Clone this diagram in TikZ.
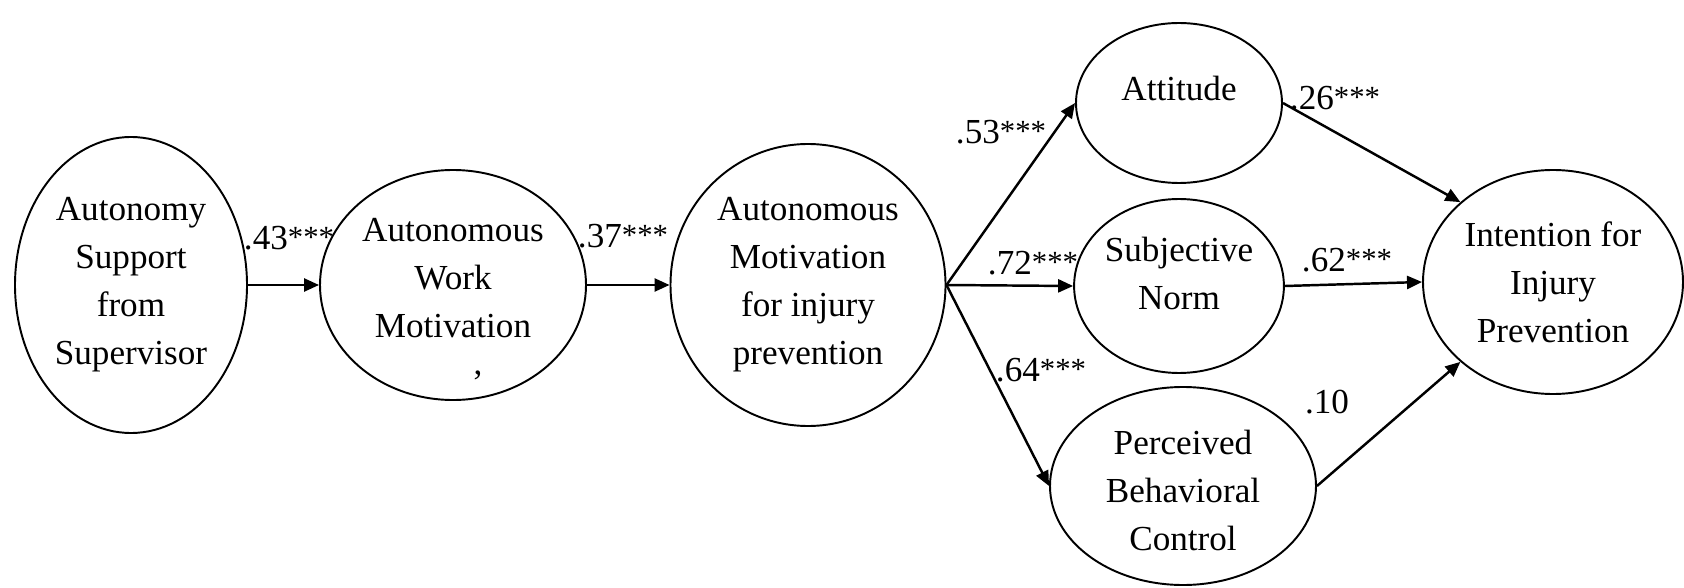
\documentclass[tikz,border=0pt]{standalone}
\usepackage{fontspec}
\setmainfont{Liberation Serif}
\usetikzlibrary{shapes.geometric, arrows.meta, positioning}

\newcommand{\stars}{\raisebox{1pt}{\fontsize{17.5}{17.5}\selectfont***}}

\tikzset{
  latent/.style={draw, ellipse, line width=1.1pt, inner sep=0pt, align=center,
    font=\fontsize{20}{27.3}\selectfont},
  path/.style={-{Triangle[length=0.3cm, width=0.26cm]}, line width=1.4pt},
  coef/.style={inner sep=0pt, font=\fontsize{20}{24}\selectfont}
}

\begin{document}
\begin{tikzpicture}
  \useasboundingbox (0,0) rectangle (33.68,11.74);

  % constructs
  \node[latent, minimum width=4.64cm, minimum height=5.92cm] (sup) at (2.62,6.04)
    {Autonomy\\Support\\from\\Supervisor};
  \node[latent, minimum width=5.32cm, minimum height=4.60cm, text depth=0.3cm] (awm) at (9.06,6.04)
    {Autonomous\\Work\\Motivation};
  \node[inner sep=0pt, font=\fontsize{20}{24}\selectfont] (awmc) at (9.56,4.24) {,};
  \node[latent, minimum width=5.50cm, minimum height=5.64cm] (amip) at (16.16,6.04)
    {Autonomous\\Motivation\\for injury\\prevention};
  \node[latent, minimum width=4.12cm, minimum height=3.20cm, text depth=0.6cm] (att) at (23.58,9.68)
    {Attitude};
  \node[latent, minimum width=4.12cm, minimum height=3.48cm, text depth=0.5cm] (sn) at (23.58,6.02)
    {Subjective\\Norm};
  \node[latent, minimum width=5.32cm, minimum height=3.96cm, text height=2.6cm] (pbc) at (23.66,2.02)
    {Perceived\\Behavioral\\Control};
  \node[latent, minimum width=5.20cm, minimum height=4.48cm] (int) at (31.06,6.10)
    {Intention for\\Injury\\Prevention};

  % paths
  \draw[path] (sup) -- (awm);
  \draw[path] (awm) -- (amip);
  \draw[path] (amip.east) -- (att.west);
  \draw[path] (amip.east) -- (sn.west);
  \draw[path] (amip.east) -- (pbc.west);
  \draw[path] (att.east) -- (int.north west);
  \draw[path] (sn.east) -- (int.west);
  \draw[path] (pbc.east) -- (int.south west);

  % coefficients
  \node[coef] (c1) at (5.78,6.98) {.43\stars};
  \node[coef] (c2) at (12.46,7.02) {.37\stars};
  \node[coef] (c3) at (20.02,9.10) {.53\stars};
  \node[coef] (c4) at (20.66,6.48) {.72\stars};
  \node[coef] (c5) at (20.82,4.34) {.64\stars};
  \node[coef] (c6) at (26.70,9.78) {.26\stars};
  \node[coef] (c7) at (26.94,6.54) {.62\stars};
  \node[coef] (c8) at (26.54,3.70) {.10};
\end{tikzpicture}
\end{document}
